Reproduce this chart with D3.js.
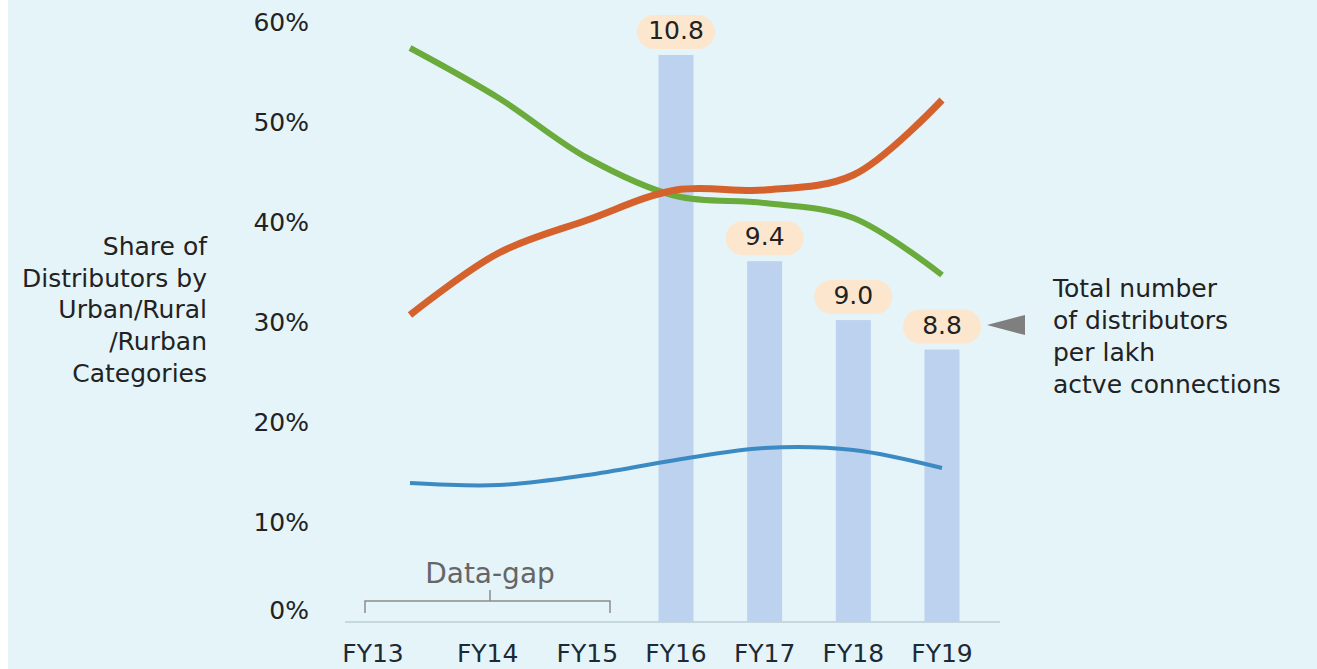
<!DOCTYPE html>
<html lang="en">
  <head>
    <meta charset="UTF-8" />
    <title>Distributors by category</title>
    <script src="https://d3js.org/d3.v7.min.js"></script>
    <style>
      body { margin: 0; background: #ffffff; }
      svg { display: block; font-family: "DejaVu Sans", sans-serif; }
    </style>
  </head>
  <body>
    <div id="chart"></div>
  </body>
</html>

<script>
  // categories + values
  const years = ["FY13", "FY14", "FY15", "FY16", "FY17", "FY18", "FY19"]
  const rural = [57.4, 52.4, 46.4, 42.6, 41.9, 40.4, 34.7]
  const urban = [30.7, 36.9, 40.2, 43.2, 43.2, 44.7, 52.2]
  const rurban = [13.9, 13.7, 14.7, 16.2, 17.4, 17.2, 15.4]
  const barYears = ["FY16", "FY17", "FY18", "FY19"]
  const perLakh = [10.8, 9.4, 9.0, 8.8]
  const yTicks = [0, 10, 20, 30, 40, 50, 60]
  const yTitle = ["Share of", "Distributors by", "Urban/Rural", "/Rurban", "Categories"]
  const note = ["Total number", "of distributors", "per lakh", "actve connections"]

  const W = 1317, H = 669
  const fs = 25

  const svg = d3.select("#chart").append("svg")
    .attr("width", W)
    .attr("height", H)

  svg.append("rect")
    .attr("x", 8).attr("y", 0)
    .attr("width", W - 8).attr("height", H)
    .attr("fill", "#e5f4f9")

  const x = d3.scalePoint()
    .domain(years)
    .range([410, 942])

  const y = d3.scaleLinear() // share %
    .domain([0, 60])
    .range([622, 22])

  const yBar = d3.scaleLinear() // distributors per lakh, baseline isn't zero
    .domain([6.95, 10.8])
    .range([622, 55])

  // baseline
  svg.append("line")
    .attr("x1", 345).attr("x2", 1000)
    .attr("y1", y(0)).attr("y2", y(0))
    .attr("stroke", "#a9bac3")
    .attr("stroke-width", 1.2)

  // y tick labels
  svg.selectAll(".ytick")
    .data(yTicks)
    .enter()
    .append("text")
    .attr("x", 309)
    .attr("y", (d) => (d === 0 ? y(d) - 10 : y(d) + 2))
    .attr("text-anchor", "end")
    .attr("dominant-baseline", "middle")
    .attr("font-size", fs)
    .attr("fill", "#222")
    .text((d) => d + "%")

  // x labels (FY13/FY14 sit left of their points in the original)
  const labelShift = { FY13: -37, FY14: -11 }
  svg.selectAll(".xtick")
    .data(years)
    .enter()
    .append("text")
    .attr("x", (d) => x(d) + (labelShift[d] || 0))
    .attr("y", 655)
    .attr("text-anchor", "middle")
    .attr("dominant-baseline", "middle")
    .attr("font-size", fs)
    .attr("fill", "#1c2a36")
    .text((d) => d)

  // bars
  const bw = 35
  svg.selectAll(".bar")
    .data(perLakh)
    .enter()
    .append("rect")
    .attr("x", (d, i) => x(barYears[i]) - bw / 2)
    .attr("y", (d) => yBar(d))
    .attr("width", bw)
    .attr("height", (d) => yBar.range()[0] - yBar(d))
    .attr("fill", "#bcd2ee")

  // value pills
  const pill = svg.selectAll(".pill")
    .data(perLakh)
    .enter()
    .append("g")
    .attr("transform", (d, i) => `translate(${x(barYears[i])},${yBar(d) - 23})`)
  pill.append("rect")
    .attr("x", -39).attr("y", -17)
    .attr("width", 78).attr("height", 34)
    .attr("rx", 17)
    .attr("fill", "#fce6cd")
  pill.append("text")
    .attr("text-anchor", "middle")
    .attr("dominant-baseline", "middle")
    .attr("font-size", fs)
    .attr("fill", "#222")
    .text((d) => d.toFixed(1))

  // lines
  const line = d3.line()
    .x((d, i) => x(years[i]))
    .y((d) => y(d))
    .curve(d3.curveCatmullRom.alpha(0.5))

  const series = [
    { values: rurban, color: "#3b8ac4", width: 4 },
    { values: rural, color: "#6aab3c", width: 6 },
    { values: urban, color: "#d5622c", width: 7 },
  ]
  svg.selectAll(".series")
    .data(series)
    .enter()
    .append("path")
    .attr("d", (d) => line(d.values))
    .attr("fill", "none")
    .attr("stroke", (d) => d.color)
    .attr("stroke-width", (d) => d.width)

  // y title
  svg.append("text")
    .attr("text-anchor", "end")
    .attr("font-size", fs)
    .attr("fill", "#222")
    .selectAll("tspan")
    .data(yTitle)
    .enter()
    .append("tspan")
    .attr("x", 207)
    .attr("y", (d, i) => 255 + i * 31.7)
    .text((d) => d)

  // right note + pointer
  svg.append("path")
    .attr("d", "M987,325 L1025,315 L1025,335 Z")
    .attr("fill", "#7f7f7f")
  svg.append("text")
    .attr("font-size", fs)
    .attr("fill", "#222")
    .selectAll("tspan")
    .data(note)
    .enter()
    .append("tspan")
    .attr("x", 1053)
    .attr("y", (d, i) => 297 + i * 32)
    .text((d) => d)

  // data-gap bracket
  svg.append("path")
    .attr("d", "M365,613 L365,601 L610,601 L610,613 M490,601 L490,590")
    .attr("fill", "none")
    .attr("stroke", "#8c8c8c")
    .attr("stroke-width", 1.5)
  svg.append("text")
    .attr("x", 490)
    .attr("y", 583)
    .attr("text-anchor", "middle")
    .attr("font-size", 28)
    .attr("fill", "#666")
    .text("Data-gap")
</script>
